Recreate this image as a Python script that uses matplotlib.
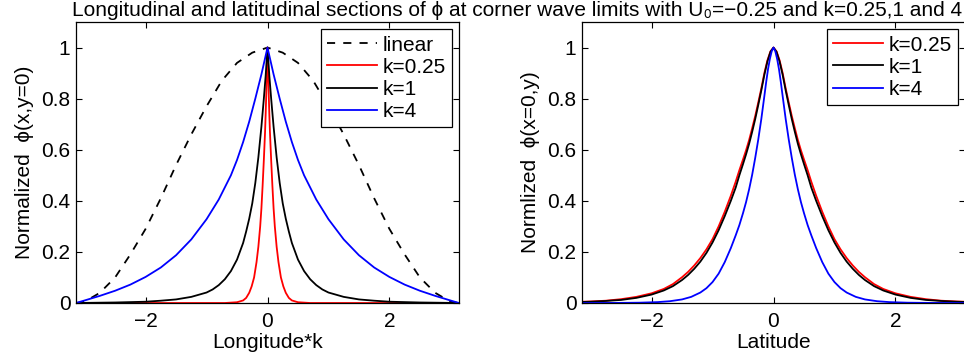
import numpy as np
import matplotlib
matplotlib.use('Agg')
import matplotlib.pyplot as plt

plt.rcParams['font.family'     ] = ['Liberation Sans', 'DejaVu Sans']
plt.rcParams['font.size'       ] = 15
plt.rcParams['xtick.direction' ] = 'in'
plt.rcParams['ytick.direction' ] = 'in'
plt.rcParams['xtick.top'       ] = True
plt.rcParams['ytick.right'     ] = True
plt.rcParams['xtick.major.size'] = 4
plt.rcParams['ytick.major.size'] = 4
plt.rcParams['xtick.major.pad' ] = 6.5
plt.rcParams['ytick.major.pad' ] = 4
plt.rcParams['axes.linewidth'  ] = 0.9
plt.rcParams['axes.unicode_minus'] = True

# ---- left panel: longitudinal section
lin_x  = [-3.14, -3.0, -2.75, -2.5, -2.25, -2.0, -1.75, -1.5, -1.25, -1.0, -0.75, -0.5, -0.25, 0.0,
          0.25, 0.5, 0.75, 1.0, 1.25, 1.5, 1.75, 2.0, 2.25, 2.5, 2.75, 3.0, 3.14]
lin_y  = [0.0, 0.005, 0.04, 0.10, 0.19, 0.29, 0.41, 0.54, 0.66, 0.77, 0.87, 0.94, 0.98, 1.0,
          0.98, 0.94, 0.87, 0.77, 0.66, 0.54, 0.41, 0.29, 0.19, 0.10, 0.04, 0.005, 0.0]

k025_x = [-3.14, -0.7, -0.5, -0.4, -0.35, -0.3, -0.26, -0.22, -0.18, -0.15, -0.12, -0.1, -0.08, -0.06,
          -0.04, -0.03, -0.02, -0.01, 0.0, 0.01, 0.02, 0.03, 0.04, 0.06, 0.08, 0.1, 0.12, 0.15,
          0.18, 0.22, 0.26, 0.3, 0.35, 0.4, 0.5, 0.7, 3.14]
k025_y = [0.0, 0.0, 0.003, 0.01, 0.02, 0.04, 0.065, 0.10, 0.16, 0.22, 0.30, 0.37, 0.46, 0.56,
          0.67, 0.74, 0.82, 0.91, 1.0, 0.91, 0.82, 0.74, 0.67, 0.56, 0.46, 0.37, 0.30, 0.22,
          0.16, 0.10, 0.065, 0.04, 0.02, 0.01, 0.003, 0.0, 0.0]

k1_x   = [-3.14, -2.5, -2.0, -1.75, -1.5, -1.25, -1.0, -0.9, -0.8, -0.7, -0.6, -0.5, -0.4, -0.35,
          -0.3, -0.25, -0.2, -0.15, -0.1, -0.06, -0.03, 0.0, 0.03, 0.06, 0.1, 0.15, 0.2, 0.25,
          0.3, 0.35, 0.4, 0.5, 0.6, 0.7, 0.8, 0.9, 1.0, 1.25, 1.5, 1.75, 2.0, 2.5, 3.14]
k1_y   = [0.0, 0.002, 0.005, 0.009, 0.014, 0.024, 0.041, 0.053, 0.07, 0.093, 0.125, 0.17, 0.235, 0.28,
          0.33, 0.39, 0.47, 0.57, 0.69, 0.80, 0.89, 1.0, 0.89, 0.80, 0.69, 0.57, 0.47, 0.39,
          0.33, 0.28, 0.235, 0.17, 0.125, 0.093, 0.07, 0.053, 0.041, 0.024, 0.014, 0.009, 0.005, 0.002, 0.0]

k4_x   = [-3.14, -3.0, -2.75, -2.5, -2.25, -2.0, -1.75, -1.5, -1.25, -1.0, -0.8, -0.6, -0.5, -0.4,
          -0.3, -0.2, -0.1, 0.0, 0.1, 0.2, 0.3, 0.4, 0.5, 0.6, 0.8, 1.0, 1.25, 1.5, 1.75, 2.0,
          2.25, 2.5, 2.75, 3.0, 3.14]
k4_y   = [0.0, 0.01, 0.028, 0.048, 0.072, 0.102, 0.139, 0.187, 0.249, 0.328, 0.405, 0.50, 0.56, 0.63,
          0.71, 0.80, 0.895, 1.0, 0.895, 0.80, 0.71, 0.63, 0.56, 0.50, 0.405, 0.328, 0.249, 0.187,
          0.139, 0.102, 0.072, 0.048, 0.028, 0.01, 0.0]

# ---- right panel: latitudinal section
lat_x  = [-3.14, -3.0, -2.75, -2.5, -2.25, -2.0, -1.8, -1.65, -1.5, -1.4, -1.3, -1.2, -1.1, -1.0,
          -0.9, -0.8, -0.7, -0.62, -0.56, -0.5, -0.45, -0.4, -0.35, -0.3, -0.25, -0.2, -0.15, -0.1,
          -0.05, 0.0, 0.05, 0.1, 0.15, 0.2, 0.25, 0.3, 0.35, 0.4, 0.45, 0.5, 0.56, 0.62, 0.7, 0.8,
          0.9, 1.0, 1.1, 1.2, 1.3, 1.4, 1.5, 1.65, 1.8, 2.0, 2.25, 2.5, 2.75, 3.0, 3.14]
lat025 = [0.005, 0.006, 0.009, 0.015, 0.024, 0.038, 0.055, 0.074, 0.101, 0.122, 0.147, 0.176, 0.210, 0.250,
          0.300, 0.357, 0.420, 0.475, 0.520, 0.562, 0.598, 0.638, 0.684, 0.732, 0.785, 0.840, 0.900, 0.950,
          0.985, 1.0, 0.985, 0.950, 0.900, 0.840, 0.785, 0.732, 0.684, 0.638, 0.598, 0.562, 0.520, 0.475,
          0.420, 0.357, 0.300, 0.250, 0.210, 0.176, 0.147, 0.122, 0.101, 0.074, 0.055, 0.038, 0.024, 0.015,
          0.009, 0.006, 0.005]
lat1   = [0.004, 0.005, 0.008, 0.012, 0.020, 0.033, 0.049, 0.066, 0.090, 0.110, 0.134, 0.162, 0.196, 0.237,
          0.285, 0.340, 0.400, 0.452, 0.500, 0.544, 0.582, 0.623, 0.670, 0.720, 0.775, 0.832, 0.893, 0.945,
          0.983, 1.0, 0.983, 0.945, 0.893, 0.832, 0.775, 0.720, 0.670, 0.623, 0.582, 0.544, 0.500, 0.452,
          0.400, 0.340, 0.285, 0.237, 0.196, 0.162, 0.134, 0.110, 0.090, 0.066, 0.049, 0.033, 0.020, 0.012,
          0.008, 0.005, 0.004]

lat4_x = [-3.14, -2.6, -2.2, -1.9, -1.7, -1.5, -1.35, -1.2, -1.1, -1.0, -0.9, -0.8, -0.7, -0.62, -0.56,
          -0.5, -0.45, -0.4, -0.35, -0.3, -0.25, -0.2, -0.15, -0.12, -0.09, -0.06, -0.03, 0.0, 0.03,
          0.06, 0.09, 0.12, 0.15, 0.2, 0.25, 0.3, 0.35, 0.4, 0.45, 0.5, 0.56, 0.62, 0.7, 0.8, 0.9,
          1.0, 1.1, 1.2, 1.35, 1.5, 1.7, 1.9, 2.2, 2.6, 3.14]
lat4   = [0.0, 0.0003, 0.0012, 0.0035, 0.007, 0.014, 0.024, 0.041, 0.058, 0.082, 0.115, 0.160, 0.215, 0.265, 0.305,
          0.352, 0.395, 0.445, 0.502, 0.568, 0.640, 0.720, 0.810, 0.865, 0.915, 0.955, 0.985, 1.0, 0.985,
          0.955, 0.915, 0.865, 0.810, 0.720, 0.640, 0.568, 0.502, 0.445, 0.395, 0.352, 0.305, 0.265, 0.215,
          0.160, 0.115, 0.082, 0.058, 0.041, 0.024, 0.014, 0.007, 0.0035, 0.0012, 0.0003, 0.0]

xticks = [-2, 0, 2]
yticks = [0, 0.2, 0.4, 0.6, 0.8, 1]
ytick_labels = ['0', '0.2', '0.4', '0.6', '0.8', '1']

fig = plt.figure(figsize=(9.64, 3.62), dpi=100)
ax1 = fig.add_axes([76/964, 59/362, 383/964, 281/362])
ax2 = fig.add_axes([582/964, 59/362, 383/964, 281/362])

lw = 1.3
ax1.plot(lin_x, lin_y, color='k', lw=lw, linestyle=(0, (4.5, 4.5)), label='linear')
ax1.plot(k025_x, k025_y, color='r', lw=lw, label='k=0.25')
ax1.plot(k1_x, k1_y, color='k', lw=lw, label='k=1')
ax1.plot(k4_x, k4_y, color='b', lw=lw, label='k=4')

ax2.plot(lat_x, lat025, color='r', lw=lw, label='k=0.25')
ax2.plot(lat_x, lat1, color='k', lw=lw, label='k=1')
ax2.plot(lat4_x, lat4, color='b', lw=lw, label='k=4')

ax1.set_xlabel('Longitude*k', labelpad=1.5)
ax1.set_ylabel('Normalized  ϕ(x,y=0)', labelpad=5)
ax2.set_xlabel('Latitude', labelpad=1.5)
ax2.set_ylabel('Normlized  ϕ(x=0,y)', labelpad=5)

for ax in (ax1, ax2):
    ax.set_xlim(-np.pi, np.pi)
    ax.set_ylim(0, 1.1)
    ax.set_xticks(xticks)
    ax.set_yticks(yticks)
    ax.set_yticklabels(ytick_labels)
    ax.tick_params(width=0.8)
    leg = ax.legend(loc='upper right', borderaxespad=0.35, fancybox=False, framealpha=1,
                    edgecolor='k', handlelength=2.4, handletextpad=0.25, labelspacing=0.15,
                    borderpad=0.3)
    leg.get_frame().set_linewidth(0.9)

fig.text(0.536, 1 - 11/362,
         'Longitudinal and latitudinal sections of ϕ at corner wave limits with U₀=−0.25 and k=0.25,1 and 4',
         ha='center', va='center', fontsize=15)

fig.savefig('out.png', dpi=100)
